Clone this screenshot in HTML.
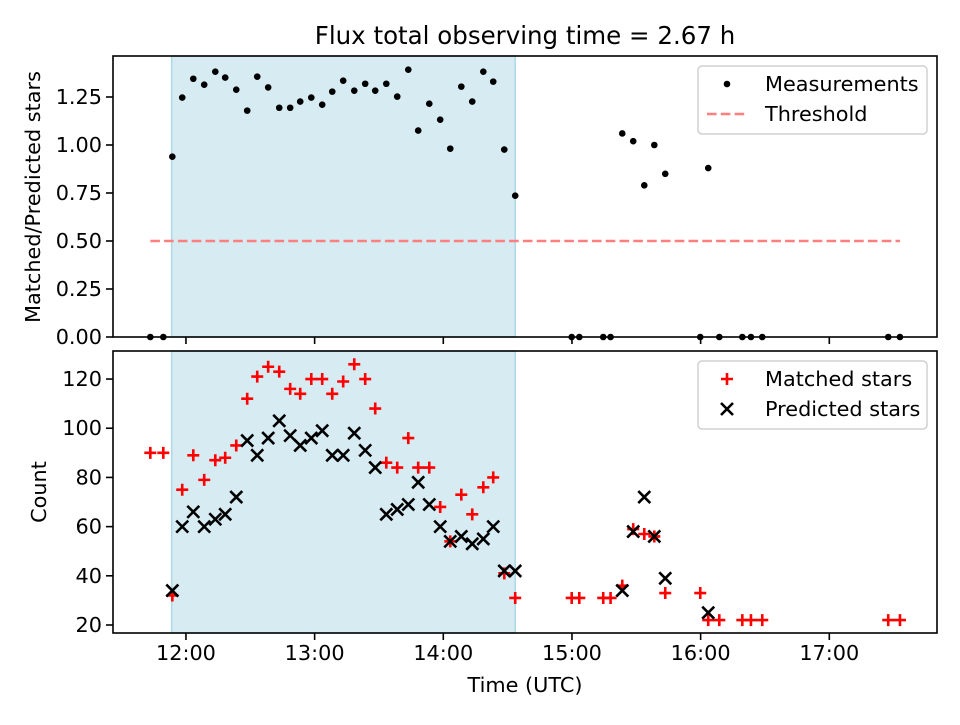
<!DOCTYPE html>
<html><head><meta charset="utf-8"><style>
body{margin:0;background:#fff}
svg text{font-family:"DejaVu Sans","Liberation Sans",sans-serif;fill:#000}
</style></head><body>
<svg id="fig" width="960" height="720" xmlns="http://www.w3.org/2000/svg">
<rect width="960" height="720" fill="#fff"/>
<text x="525" y="44" font-size="24.5" text-anchor="middle">Flux total observing time = 2.67 h</text>
<g id="top"></g>
<g id="bot"></g>
</svg>
<script>
const times = [11.723,11.824,11.894,11.971,12.057,12.142,12.228,12.305,12.391,12.476,12.554,12.639,12.725,12.810,12.888,12.974,13.059,13.137,13.222,13.308,13.393,13.471,13.557,13.642,13.728,13.805,13.891,13.976,14.054,14.140,14.225,14.311,14.388,14.474,14.559,
14.998,15.057,15.243,15.300,15.391,15.476,15.562,15.640,15.725,15.997,16.059,16.145,16.324,16.391,16.479,17.458,17.549];
const ratio = [0,0,0.939,1.247,1.345,1.314,1.382,1.351,1.288,1.179,1.356,1.300,1.194,1.194,1.226,1.247,1.210,1.278,1.335,1.283,1.319,1.283,1.319,1.252,1.392,1.075,1.215,1.132,0.981,1.304,1.226,1.382,1.330,0.976,0.736,
0,0,0,0,1.06,1.02,0.79,1.00,0.85,0,0.88,0,0,0,0,0,0];
const matched = [90,90,32,75,89,79,87,88,93,112,121,125,123,116,114,120,120,114,119,126,120,108,86,84,96,84,84,68,54,73,65,76,80,41,31,
31,31,31,31,36,59,57,56,33,33,22,22,22,22,22,22,22];
const predicted = [null,null,34,60,66,60,63,65,72,95,89,96,103,97,93,96,99,89,89,98,91,84,65,67,69,78,69,60,54,56,53,55,60,42,42,
null,null,null,null,34,58,72,56,39,null,25,null,null,null,null,null,null];
const threshold = 0.5;
const obsStart = 11.889, obsEnd = 14.559;
const xTickVals = [12,13,14,15,16,17];
const xTickLabels = ["12:00","13:00","14:00","15:00","16:00","17:00"];
const topTicks = [0,0.25,0.5,0.75,1.0,1.25];
const topTickLabels = ["0.00","0.25","0.50","0.75","1.00","1.25"];
const botTicks = [20,40,60,80,100,120];

const NS="http://www.w3.org/2000/svg";
function mk(parent,tag,attrs){const e=document.createElementNS(NS,tag);for(const k in attrs)e.setAttribute(k,attrs[k]);parent.appendChild(e);return e;}
const L=113,R=937;
const xmin=11.433,xmax=17.837;
const X=t=>L+(t-xmin)/(xmax-xmin)*(R-L);
const T={top:56,bot:337,ymin:0,ymax:1.4635};
const B={top:351,bot:633,ymin:16.75,ymax:131.4};
const YT=v=>T.bot-(v-T.ymin)/(T.ymax-T.ymin)*(T.bot-T.top);
const YB=v=>B.bot-(v-B.ymin)/(B.ymax-B.ymin)*(B.bot-B.top);

function panel(g,P,Y,ticks,labels,showX){
  const sh=mk(g,'rect',{x:X(obsStart),y:P.top,width:X(obsEnd)-X(obsStart),height:P.bot-P.top,fill:'#add8e6','fill-opacity':0.5,stroke:'#add8e6','stroke-width':1.5});
  
  
  ticks.forEach((v,i)=>{
    const y=Y(v);
    mk(g,'line',{x1:L,x2:L-7,y1:y,y2:y,stroke:'#000','stroke-width':1.6});
    const t=mk(g,'text',{x:L-11,y:y+7,'font-size':20.8,'text-anchor':'end'});
    t.textContent=labels[i];
    
    
  });
  xTickVals.forEach((v,i)=>{
    const x=X(v);
    mk(g,'line',{x1:x,x2:x,y1:P.bot,y2:P.bot+7,stroke:'#000','stroke-width':1.6});
    if(showX){
      const t=mk(g,'text',{x:x,y:P.bot+27,'font-size':20.8,'text-anchor':'middle'});
      t.textContent=xTickLabels[i];
      
      
    }
  });
}
function plus(g,x,y,c){const s=6;const p=mk(g,'path',{d:`M${x-s} ${y}H${x+s}M${x} ${y-s}V${y+s}`,stroke:c,'stroke-width':2.6,fill:'none'});return p;}
function cross(g,x,y,c){const s=6;const p=mk(g,'path',{d:`M${x-s} ${y-s}L${x+s} ${y+s}M${x-s} ${y+s}L${x+s} ${y-s}`,stroke:c,'stroke-width':2.6,fill:'none'});return p;}

const gt=document.getElementById('top'), gb=document.getElementById('bot');
panel(gt,T,YT,topTicks,topTickLabels,false);
panel(gb,B,YB,botTicks,botTicks.map(String),true);

// threshold
const th=mk(gt,'line',{x1:X(times[0]),x2:X(times[times.length-1]),y1:YT(threshold),y2:YT(threshold),stroke:'#ff7f7f','stroke-width':2.6,'stroke-dasharray':'9.6,4.2'});


// measurements
times.forEach((t,i)=>{
  const c=mk(gt,'circle',{cx:X(t),cy:YT(ratio[i]),r:3.3,fill:'#000'});
  
  
});
times.forEach((t,i)=>{
  const p=plus(gb,X(t),YB(matched[i]),'#ff0000');
  
  
});
times.forEach((t,i)=>{
  if(predicted[i]===null)return;
  const p=cross(gb,X(t),YB(predicted[i]),'#000');
  
  
});
// frames
[[gt,T,'top-frame'],[gb,B,'bottom-frame']].forEach(([g,P,n])=>{
  const r=mk(g,'rect',{x:L,y:P.top,width:R-L,height:P.bot-P.top,fill:'none',stroke:'#000','stroke-width':1.6});
  
  
});
// legends
function legend(g,y0,name,items){
  const lg=mk(g,'g',{});
  
  
  mk(lg,'rect',{x:698,y:y0,width:229,height:68,rx:4,fill:'#fff','fill-opacity':0.8,stroke:'#d0d0d0','stroke-width':1.5});
  items.forEach((it,i)=>{
    const cy=y0+18+i*30;
    it.draw(lg,727,cy);
    const t=mk(lg,'text',{x:765,y:cy+7,'font-size':20.8});
    t.textContent=it.label;
    
    
  });
}
legend(gt,66,'top-legend',[
  {label:'Measurements',draw:(g,x,y)=>mk(g,'circle',{cx:x,cy:y,r:3.3,fill:'#000'})},
  {label:'Threshold',draw:(g,x,y)=>mk(g,'line',{x1:x-20,x2:x+21,y1:y,y2:y,stroke:'#ff7f7f','stroke-width':2.6,'stroke-dasharray':'9.6,4.2'})}
]);
legend(gb,361,'bottom-legend',[
  {label:'Matched stars',draw:(g,x,y)=>plus(g,x,y,'#ff0000')},
  {label:'Predicted stars',draw:(g,x,y)=>cross(g,x,y,'#000')}
]);
// axis labels
const svg=document.getElementById('fig');
const yl1=mk(svg,'text',{x:0,y:0,'font-size':20.8,'text-anchor':'middle',transform:'translate(40,197) rotate(-90)'});
yl1.textContent='Matched/Predicted stars';


const yl2=mk(svg,'text',{x:0,y:0,'font-size':20.8,'text-anchor':'middle',transform:'translate(46,492) rotate(-90)'});
yl2.textContent='Count';


const xl=mk(svg,'text',{x:525,y:692,'font-size':20.8,'text-anchor':'middle'});
xl.textContent='Time (UTC)';


</script>
</body></html>
